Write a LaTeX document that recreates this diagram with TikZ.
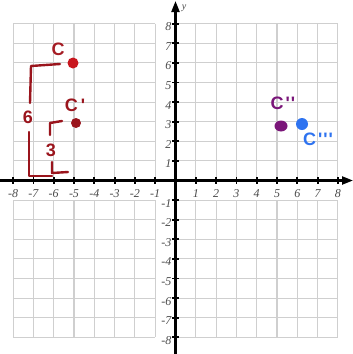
\documentclass[tikz,border=0pt]{standalone}
\usepackage{fontspec}
\setmainfont{Liberation Serif}
\newfontfamily\handfont{Liberation Sans}
\usetikzlibrary{arrows.meta,shapes.geometric}
\definecolor{gridgray}{HTML}{CFCFCF}
\definecolor{numgray}{HTML}{4A4A4A}
\definecolor{cred}{HTML}{C8161E}
\definecolor{clab}{HTML}{A51C24}
\definecolor{bred}{HTML}{9A141C}
\definecolor{cpurple}{HTML}{7A1679}
\definecolor{cblue}{HTML}{2E73F0}
\tikzset{
  gridline/.style={draw=gridgray, line width=1.1pt},
  axisline/.style={draw=black, line width=2.2pt, -{Triangle[length=11pt,width=8pt]}},
  tickmark/.style={draw=black, line width=1.8pt},
  numlab/.style={font=\itshape\fontsize{12}{12}\selectfont, text=numgray, inner sep=0.5pt},
  hand/.style={font=\handfont\bfseries\fontsize{18}{18}\selectfont, inner sep=0pt},
  bracketline/.style={draw=bred, line width=2.4pt, line cap=round, line join=round},
  dot/.style={circle, inner sep=0pt, minimum size=#1},
}
\begin{document}
\begin{tikzpicture}[x=1pt,y=-1pt]
\useasboundingbox (0,0) rectangle (353,354);
\fill[white] (0,0) rectangle (353,354);
\def\ox{175.5}\def\oy{180.5}\def\ux{20.3}\def\uy{19.6}
% grid
\foreach \k in {-8,...,-1,1,2,3,4,5,6,7,8} {
  \draw[gridline] ({\ox+\ux*\k},{\oy-\uy*8}) -- ({\ox+\ux*\k},\oy);
  \draw[gridline] ({\ox+\ux*\k},{\oy+\uy}) -- ({\ox+\ux*\k},{\oy+\uy*8});
}
\foreach \j in {1,...,8} {
  \draw[gridline] ({\ox-\ux*8},{\oy-\uy*\j}) -- ({\ox-\ux},{\oy-\uy*\j});
  \draw[gridline] (\ox,{\oy-\uy*\j}) -- ({\ox+\ux*8},{\oy-\uy*\j});
  \draw[gridline] ({\ox-\ux*8},{\oy+\uy*\j}) -- ({\ox-\ux},{\oy+\uy*\j});
  \draw[gridline] (\ox,{\oy+\uy*\j}) -- ({\ox+\ux*8},{\oy+\uy*\j});
}
% axes
\coordinate (xs) at (0,\oy);
\coordinate (xe) at (353,\oy);
\coordinate (ys) at (\ox,354);
\coordinate (ye) at (\ox,1);
\draw[axisline] (xs) -- (xe);
\draw[axisline] (ys) -- (ye);
% ticks and labels
\foreach \k [count=\i] in {-8,-7,-6,-5,-4,-3,-2,-1,1,2,3,4,5,6,7,8} {
  \draw[tickmark] ({\ox+\ux*\k},{\oy-3.5}) -- ({\ox+\ux*\k},{\oy+3.5});
  \draw[tickmark] ({\ox-3.5},{\oy-\uy*\k}) -- ({\ox+3.5},{\oy-\uy*\k});
  \node[numlab] (xl\i) at ({\ox+\ux*\k},{\oy+13}) {\k};
  \node[numlab, anchor=east] (yl\i) at ({\ox-3.5},{\oy-\uy*\k+3}) {\k};
}
\node[numlab, font=\itshape\fontsize{10}{10}\selectfont] (ylab) at (184,8) {y};
% brackets
\draw[bracketline] (60,64) -- (31,66) -- (30,103);
\node[hand, text=bred] (six) at (28,117) {6};
\draw[bracketline] (29,132) -- (29,176) -- (52,176);
\draw[bracketline] (52,162) -- (52,173) -- (68,172);
\draw[bracketline] (62,121) -- (50,123) -- (50,135);
\node[hand, text=bred] (three) at (51,150) {3};
% points
\node[dot=11pt, fill=cred] (C) at (73,63) {};
\node[dot=10pt, fill=bred] (C1) at (76,123) {};
\node[ellipse, inner sep=0pt, minimum width=13pt, minimum height=11pt, fill=cpurple] (C2) at (281,126) {};
\node[dot=12pt, fill=cblue] (C3) at (302,124) {};
% labels
\node[hand, text=clab] (Clab) at (58,49) {C};
\node[hand, text=bred] (C1lab) at (75,105) {C\hspace{3pt}\textquotesingle};
\node[hand, text=cpurple] (C2lab) at (283,103) {C\hspace{2pt}\textquotesingle\hspace{1pt}\textquotesingle};
\node[hand, text=cblue] (C3lab) at (318,139) {C\hspace{2pt}\textquotesingle\hspace{1pt}\textquotesingle\hspace{1pt}\textquotesingle};
\end{tikzpicture}
\end{document}
